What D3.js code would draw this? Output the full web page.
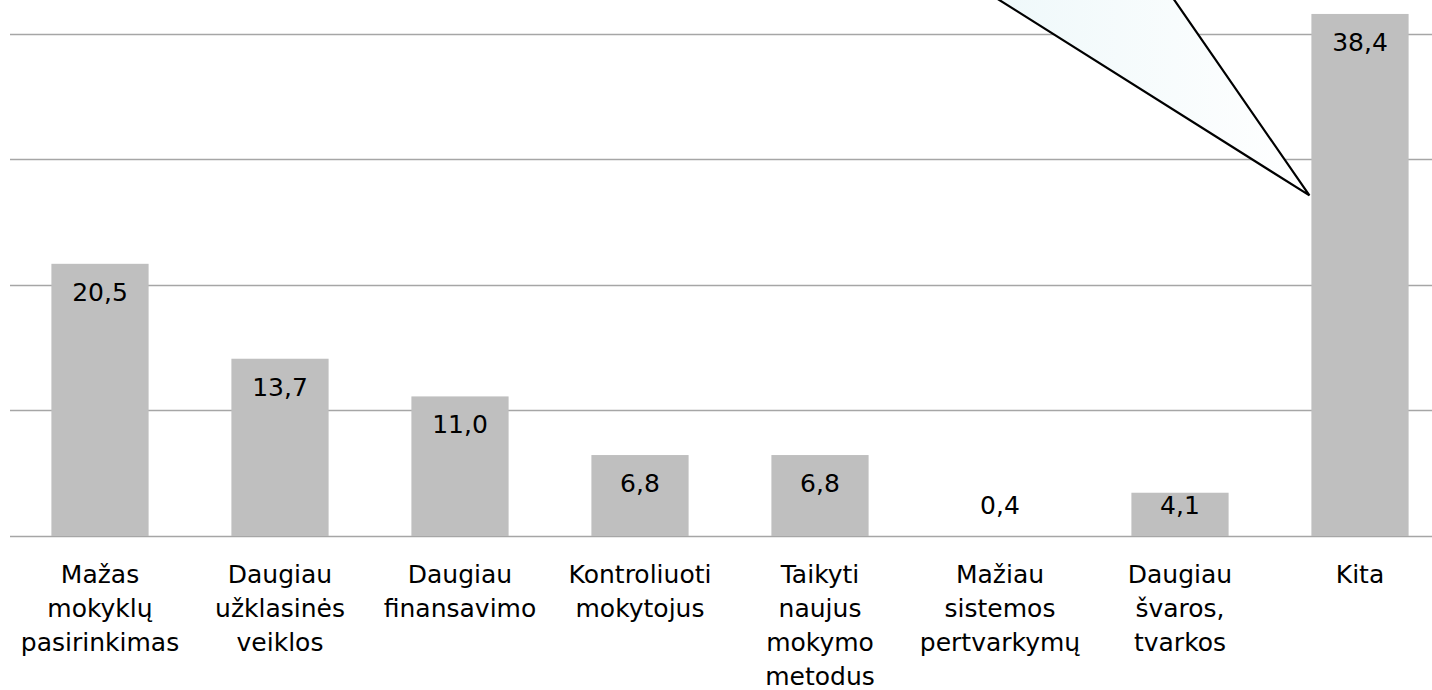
<!DOCTYPE html>
<html lang="lt">
<head>
<meta charset="utf-8">
<script src="https://cdn.jsdelivr.net/npm/d3@7"></script>
<style>
  html, body { margin: 0; padding: 0; background: #ffffff; }
  svg { display: block; }
  text { font-family: "DejaVu Sans", Verdana, sans-serif; fill: #000; }
</style>
</head>
<body>
<svg id="chart" width="1432" height="690"></svg>
<script>
// Survey answers (per cent)
const categories = [
  "Mažas\nmokyklų\npasirinkimas",
  "Daugiau\nužklasinės\nveiklos",
  "Daugiau\nfinansavimo",
  "Kontroliuoti\nmokytojus",
  "Taikyti\nnaujus\nmokymo\nmetodus",
  "Mažiau\nsistemos\npertvarkymų",
  "Daugiau\nšvaros,\ntvarkos",
  "Kita"
];
const values = [20.5, 13.7, 11.0, 6.8, 6.8, 0.4, 4.1, 38.4];
const valueLabels = ["20,5", "13,7", "11,0", "6,8", "6,8", "0,4", "4,1", "38,4"];

// value axis: domain and gridline positions
const yDomain = [1, 39.4];
const gridValues = [1, 10, 19, 28, 37];

const svg = d3.select("#chart");
const W = 1432, H = 690;
const plot = { left: 10, right: 1450, top: 0, bottom: 536 };

const x = d3.scaleBand()
  .domain(categories)
  .range([plot.left, plot.right])
  .paddingInner(0.46)
  .paddingOuter(0.23);

const y = d3.scaleLinear()
  .domain(yDomain)
  .range([plot.bottom, plot.top])
  .clamp(true);

// horizontal gridlines
svg.append("g")
  .selectAll("line")
  .data(gridValues)
  .join("line")
  .attr("x1", plot.left)
  .attr("x2", W)
  .attr("y1", d => Math.round(y(d)) + 0.5)
  .attr("y2", d => Math.round(y(d)) + 0.5)
  .attr("stroke", "#a6a6a6")
  .attr("stroke-width", 1.5);

// bars
svg.append("g")
  .selectAll("rect")
  .data(values)
  .join("rect")
  .attr("x", (d, i) => x(categories[i]))
  .attr("width", x.bandwidth())
  .attr("y", d => y(d))
  .attr("height", d => plot.bottom - y(d))
  .attr("fill", "#bfbfbf");

// value labels inside the top of each bar
svg.append("g")
  .selectAll("text")
  .data(values)
  .join("text")
  .attr("x", (d, i) => x(categories[i]) + x.bandwidth() / 2)
  .attr("y", d => Math.min(y(d) + 37, plot.bottom - 22))
  .attr("text-anchor", "middle")
  .attr("font-size", 25)
  .text((d, i) => valueLabels[i]);

// category axis labels (wrapped)
const xLabels = svg.append("g")
  .selectAll("text")
  .data(categories)
  .join("text")
  .attr("x", d => x(d) + x.bandwidth() / 2)
  .attr("y", plot.bottom + 47)
  .attr("text-anchor", "middle")
  .attr("font-size", 25);

xLabels.each(function(d) {
  const t = d3.select(this);
  d.split("\n").forEach((line, k) => {
    t.append("tspan")
      .attr("x", x(d) + x.bandwidth() / 2)
      .attr("dy", k === 0 ? 0 : 34)
      .text(line);
  });
});

// callout pointer aimed at the "Kita" bar
const defs = svg.append("defs");
const grad = defs.append("linearGradient")
  .attr("id", "calloutFill")
  .attr("x1", "0%").attr("x2", "100%")
  .attr("y1", "0%").attr("y2", "0%");
grad.append("stop").attr("offset", "0%").attr("stop-color", "#eef8fa");
grad.append("stop").attr("offset", "100%").attr("stop-color", "#ffffff");

const kita = categories[categories.length - 1];
const tip = [x(kita) - 2, y(25.4)];
const calloutPts = [
  [tip[0] - 326, -10],
  tip,
  [tip[0] - 142, -10]
];
svg.append("path")
  .attr("d", d3.line()(calloutPts))
  .attr("fill", "url(#calloutFill)")
  .attr("stroke", "#000")
  .attr("stroke-width", 2.2)
  .attr("stroke-linejoin", "miter");
</script>
</body>
</html>
